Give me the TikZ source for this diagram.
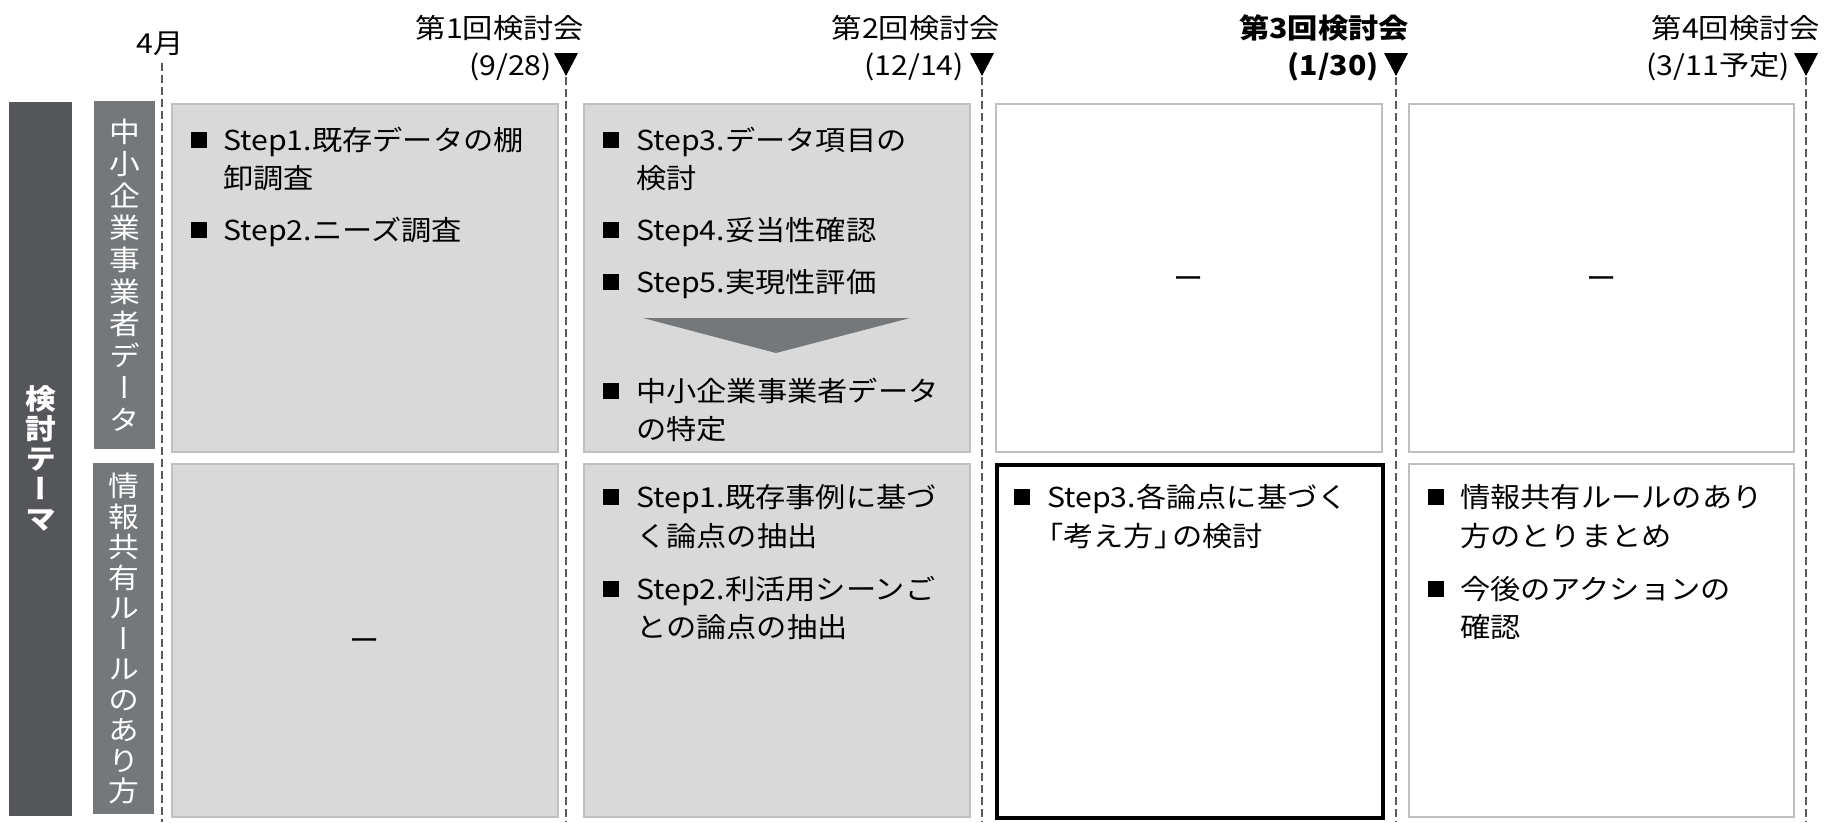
\documentclass[tikz,border=0pt]{standalone}
\usepackage{fontspec}
\setmainfont{Noto Sans CJK JP}[FakeStretch=1.1]
\newfontfamily\vfont{Noto Sans CJK JP}[FakeStretch=1.1,RawFeature=+vert]
\definecolor{darkbar}{RGB}{84,86,90}
\definecolor{midbar}{RGB}{117,120,123}
\definecolor{boxfill}{RGB}{217,217,217}
\definecolor{boxline}{RGB}{191,191,191}
\definecolor{dashc}{RGB}{89,89,89}
\begin{document}
\begin{tikzpicture}[x=1pt,y=-1pt,
  txt/.style={font=\fontsize{27.5}{30}\selectfont, inner sep=0pt, text height=24.2pt, text depth=3.3pt, anchor=west},
  hdr/.style={font=\fontsize{27.5}{30}\selectfont, inner sep=0pt, text height=24.2pt, text depth=3.3pt},
  hdrb/.style={font=\bfseries\fontsize{27.5}{30}\selectfont, inner sep=0pt, text height=24.2pt, text depth=3.3pt},
  bul/.style={fill=black, minimum size=16pt, inner sep=0pt},
  cell/.style={anchor=north west, inner sep=0pt, minimum width=386pt},
  graybox/.style={cell, draw=boxline, fill=boxfill, line width=1.5pt},
  whitebox/.style={cell, draw=boxline, fill=white, line width=1.5pt},
  boldbox/.style={cell, draw=black, fill=white, line width=3.5pt},
  bar/.style={anchor=north west, inner sep=0pt},
  vlab/.style={text=white, align=center, inner sep=0pt, font=\vfont\fontsize{28}{32}\selectfont},
  vlabb/.style={text=white, align=center, inner sep=0pt, font=\vfont\bfseries\fontsize{28}{30}\selectfont},
  timeline/.style={draw=dashc, line width=2pt, dash pattern=on 8pt off 4pt},
  tri/.style={fill=black}
]
\fill[white] (0,0) rectangle (1835,822);
\useasboundingbox (0,0) rectangle (1835,822);

% left labels
\node[bar, fill=darkbar, minimum width=63pt, minimum height=714pt] (theme) at (9,102) {};
\node[vlabb] (themetxt) at (40.5,458) {検\\討\\テ\\ー\\マ};
\node[bar, fill=midbar, minimum width=61pt, minimum height=348pt] (lab1) at (94,101) {};
\node[vlab] (lab1txt) at (lab1.center) {中\\小\\企\\業\\事\\業\\者\\デ\\ー\\タ};
\node[bar, fill=midbar, minimum width=61pt, minimum height=351pt] (lab2) at (93,463) {};
\node[vlab, font=\vfont\fontsize{28}{30.5}\selectfont] (lab2txt) at (lab2.center) {情\\報\\共\\有\\ル\\ー\\ル\\の\\あ\\り\\方};

% timelines
\coordinate (d0a) at (162,63);  \coordinate (d0b) at (162,822);
\coordinate (d1a) at (566,77);  \coordinate (d1b) at (566,822);
\coordinate (d2a) at (982,77);  \coordinate (d2b) at (982,822);
\coordinate (d3a) at (1396,77); \coordinate (d3b) at (1396,822);
\coordinate (d4a) at (1806,77); \coordinate (d4b) at (1806,822);
\draw[timeline] (d0a) -- (d0b);
\draw[timeline] (d1a) -- (d1b);
\draw[timeline] (d2a) -- (d2b);
\draw[timeline] (d3a) -- (d3b);
\draw[timeline] (d4a) -- (d4b);

% headers
\node[hdr] (m0) at (160,43) {4月};
\node[hdr, anchor=east] (m1a) at (584,28) {第1回検討会};
\node[hdr, anchor=east] (m1b) at (552,65) {(9/28)};
\fill[tri] (554,53) -- (578,53) -- (566,76) -- cycle;
\node[hdr, anchor=east] (m2a) at (1000,28) {第2回検討会};
\node[hdr, anchor=east] (m2b) at (964,65) {(12/14)};
\fill[tri] (970,53) -- (994,53) -- (982,76) -- cycle;
\node[hdrb, anchor=east] (m3a) at (1409,28) {第3回検討会};
\node[hdrb, anchor=east] (m3b) at (1379,65) {(1/30)};
\fill[tri] (1384,53) -- (1408,53) -- (1396,76) -- cycle;
\node[hdr, anchor=east] (m4a) at (1820,28) {第4回検討会};
\node[hdr, anchor=east] (m4b) at (1790,65) {(3/11予定)};
\fill[tri] (1794,53) -- (1818,53) -- (1806,76) -- cycle;

% boxes
\node[graybox, minimum height=348pt] (b11) at (171,103) {};
\node[graybox, minimum height=348pt] (b12) at (583,103) {};
\node[whitebox, minimum height=348pt] (b13) at (995,103) {};
\node[whitebox, minimum height=348pt, minimum width=385pt] (b14) at (1408,103) {};
\node[graybox, minimum height=353pt] (b21) at (171,463) {};
\node[graybox, minimum height=353pt] (b22) at (583,463) {};
\node[boldbox, minimum height=353pt] (b23) at (995,463) {};
\node[whitebox, minimum height=353pt, minimum width=385pt] (b24) at (1408,463) {};

% box 11
\node[bul] (u11a) at (199,140) {};
\node[txt] (t11a) at (223,140) {Step1.既存データの棚};
\node[txt] (t11b) at (223,178) {卸調査};
\node[bul] (u11b) at (199,230) {};
\node[txt] (t11c) at (223,230) {Step2.ニーズ調査};

% box 12
\node[bul] (u12a) at (611,140) {};
\node[txt] (t12a) at (636,140) {Step3.データ項目の};
\node[txt] (t12b) at (636,178) {検討};
\node[bul] (u12b) at (611,230) {};
\node[txt] (t12c) at (636,230) {Step4.妥当性確認};
\node[bul] (u12c) at (611,282) {};
\node[txt] (t12d) at (636,282) {Step5.実現性評価};
\fill[midbar] (643,318) -- (910,318) -- (776,353) -- cycle;
\node[bul] (u12d) at (611,391) {};
\node[txt] (t12e) at (636,391) {中小企業事業者データ};
\node[txt] (t12f) at (636,429) {の特定};

% empty boxes
\node[hdr] (e13) at (b13.center) {ー};
\node[hdr] (e14) at (b14.center) {ー};
\node[hdr] (e21) at (b21.center) {ー};

% box 22
\node[bul] (u22a) at (611,497) {};
\node[txt] (t22a) at (636,497) {Step1.既存事例に基づ};
\node[txt] (t22b) at (636,536) {く論点の抽出};
\node[bul] (u22b) at (611,589) {};
\node[txt] (t22c) at (636,589) {Step2.利活用シーンご};
\node[txt] (t22d) at (636,627) {との論点の抽出};

% box 23
\node[bul] (u23a) at (1022,497) {};
\node[txt] (t23a) at (1047,497) {Step3.各論点に基づく};
\node[txt] (t23b) at (1047,536) {\hspace*{-14pt}「考え方」\hspace{-12pt}の検討};

% box 24
\node[bul] (u24a) at (1436,497) {};
\node[txt] (t24a) at (1460,497) {情報共有ルールのあり};
\node[txt] (t24b) at (1460,536) {方のとりまとめ};
\node[bul] (u24b) at (1436,589) {};
\node[txt] (t24c) at (1460,589) {今後のアクションの};
\node[txt] (t24d) at (1460,627) {確認};
\end{tikzpicture}
\end{document}
